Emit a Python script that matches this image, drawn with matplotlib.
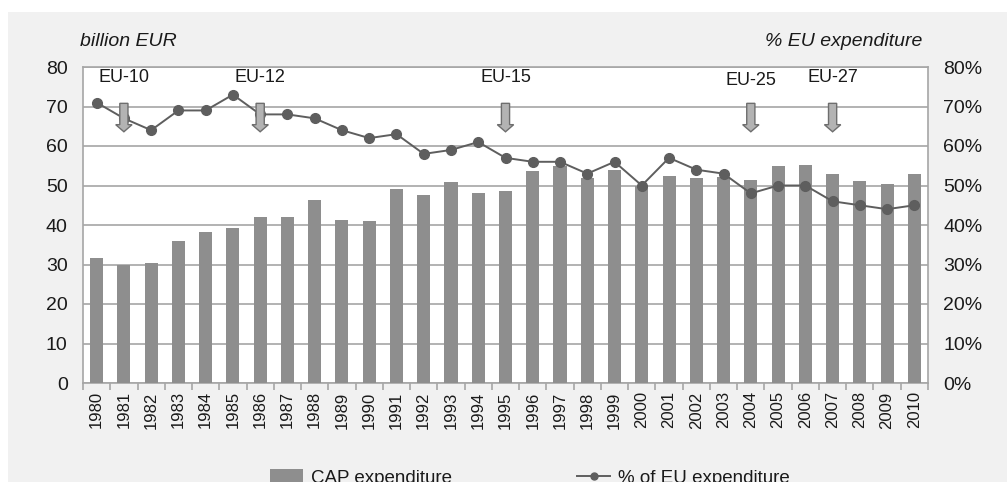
import numpy as np
import matplotlib
matplotlib.use('Agg')
import matplotlib.pyplot as plt
from matplotlib.patches import Rectangle, FancyArrow
from matplotlib.lines import Line2D

plt.rcParams['font.family'] = ['Liberation Sans', 'DejaVu Sans']

# data
years = list(range(1980, 2011))
cap_exp = [31.7, 30.0, 30.3, 36.0, 38.2, 39.3, 41.9, 41.9, 46.4, 41.3, 41.0,
           49.2, 47.6, 50.9, 48.2, 48.7, 53.7, 55.0, 52.0, 54.0, 50.0,
           52.3, 51.8, 52.2, 51.5, 54.9, 55.1, 52.8, 51.2, 50.4, 52.8]
pct_eu = [71, 67, 64, 69, 69, 73, 68, 68, 67, 64, 62, 63, 58, 59, 61, 57,
          56, 56, 53, 56, 50, 57, 54, 53, 48, 50, 50, 46, 45, 44, 45]
enlarge_labels = ['EU-10', 'EU-12', 'EU-15', 'EU-25', 'EU-27']
enlarge_years = [1981, 1986, 1995, 2004, 2007]

bar_col = '#8e8e8e'
line_col = '#5e5e5e'
grid_col = '#a6a6a6'
bg_col = '#f1f1f1'
txt_col = '#1a1a1a'

fig = plt.figure(figsize=(10.07, 4.82), dpi=100, facecolor='white')
# gray panel behind the chart (white strip at top/left)
fig.patches.append(Rectangle((8 / 1007, 0), 1, 1 - 12 / 482, transform=fig.transFigure,
                             facecolor=bg_col, edgecolor='none', zorder=-10))

ax = fig.add_axes([83 / 1007, 1 - 383 / 482, (928 - 83) / 1007, (383 - 67) / 482])
x = np.arange(len(years))
ax.bar(x, cap_exp, width=0.48, color=bar_col, zorder=3)
ax.set_xlim(-0.5, len(years) - 0.5)
ax.set_ylim(0, 80)
ax.set_yticks(range(0, 81, 10))
ax.yaxis.grid(True, color=grid_col, linewidth=1.2, zorder=0)
ax.set_axisbelow(True)
ax.set_xticks(x)
ax.set_xticklabels([str(y) for y in years], rotation=90, fontsize=12, color=txt_col)
ax.set_xticks(np.arange(-0.5, len(years), 1), minor=True)
ax.tick_params(axis='x', which='major', length=0, pad=6)
ax.tick_params(axis='x', which='minor', length=5, color=grid_col, width=1.2)
ax.tick_params(axis='y', length=0, labelsize=14, pad=11, labelcolor=txt_col)
for s in ax.spines.values():
    s.set_color(grid_col)
    s.set_linewidth(1.2)

ax2 = ax.twinx()
ax2.plot(x, pct_eu, color=line_col, marker='o', markersize=7, linewidth=1.4, zorder=5)
ax2.set_ylim(0, 80)
ax2.set_yticks(range(0, 81, 10))
ax2.set_yticklabels([f'{v}%' for v in range(0, 81, 10)])
ax2.tick_params(axis='y', length=0, labelsize=14, pad=11, labelcolor=txt_col)
for s in ax2.spines.values():
    s.set_visible(False)

# enlargement arrows
for lab, yr in zip(enlarge_labels, enlarge_years):
    i = years.index(yr)
    ax2.add_patch(FancyArrow(i, 70.8, 0, -7.2, width=0.3, head_width=0.6,
                             head_length=1.8, length_includes_head=True,
                             facecolor='#b3b3b3', edgecolor='#6e6e6e',
                             linewidth=1.0, zorder=7))
    ly = 74.5 if lab == 'EU-25' else 75.2
    ax2.text(i, ly, lab, ha='center', va='bottom', fontsize=13, color=txt_col, zorder=8)

fig.text(80 / 1007, 1 - 41 / 482, 'billion EUR', fontsize=14, style='italic',
         ha='left', va='center', color=txt_col)
fig.text(922 / 1007, 1 - 41 / 482, '% EU expenditure', fontsize=14, style='italic',
         ha='right', va='center', color=txt_col)

handles = [Rectangle((0, 0), 1, 1, facecolor=bar_col),
           Line2D([0], [0], color=line_col, marker='o', markersize=5, linewidth=1.4)]
fig.legend(handles, ['CAP expenditure', '% of EU expenditure'], loc='center',
           bbox_to_anchor=(530 / 1007, 1 - 478 / 482), ncol=2, frameon=False,
           fontsize=13.5, columnspacing=6.7, handlelength=1.76, handletextpad=0.4,
           labelcolor=txt_col)

fig.savefig('out.png', dpi=100, facecolor=fig.get_facecolor())
